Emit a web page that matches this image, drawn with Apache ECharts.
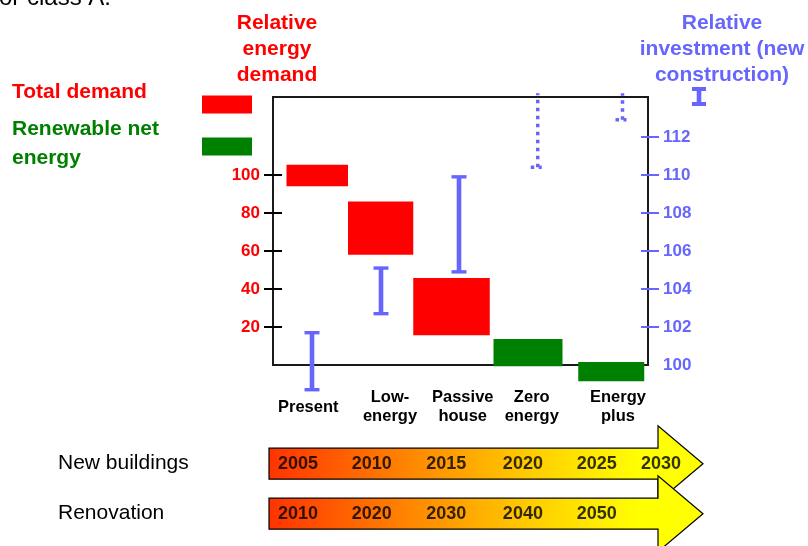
<!DOCTYPE html>
<html>
<head>
<meta charset="utf-8">
<script src="https://cdn.jsdelivr.net/npm/echarts@6/dist/echarts.min.js"></script>
<style>html,body{margin:0;padding:0;background:#fff}#chart{width:808px;height:546px}</style>
</head>
<body>
<div id="chart"></div>
<script>
var RED = '#ff0000', GREEN = '#008000', BLUE = '#6666ff';
var FONT = '"Liberation Sans", Arial, sans-serif';

// stages on the x axis (stage units, 0..5)
var stages = ['Present', 'Low-\nenergy', 'Passive\nhouse', 'Zero\nenergy', 'Energy\nplus'];
var stageLabelPos = [0.47, 1.56, 2.53, 3.45, 4.6];

// total demand bars (relative energy demand)
var demandStart = [0.18, 1.0, 1.87];
var demandEnd = [1.0, 1.87, 2.89];
var demandLow = [94, 58, 15.6];
var demandHigh = [105.4, 86, 45.8];

// renewable net energy bars
var renewStart = [2.94, 4.07];
var renewEnd = [3.86, 4.95];
var renewLow = [-0.7, -8.6];
var renewHigh = [13.7, 1.6];

// relative investment ranges (right axis)
var investX = [0.52, 1.44, 2.48];
var investLow = [98.7, 102.7, 104.9];
var investHigh = [101.7, 105.1, 109.9];
var openInvestX = [3.53, 4.66];
var openInvestLow = [110.4, 112.9];
var openInvestHigh = [114.3, 114.3];

var energyTicks = [20, 40, 60, 80, 100];
var investTicks = [102, 104, 106, 108, 110, 112];
var investLabels = [100, 102, 104, 106, 108, 110, 112];

// timeline arrows
var timelineRows = ['New buildings', 'Renovation'];
var newYears = ['2005', '2010', '2015', '2020', '2025', '2030'];
var newYearPos = [0.40, 1.42, 2.45, 3.51, 4.53, 5.42];
var renoYears = ['2010', '2020', '2030', '2040', '2050'];
var renoYearPos = [0.40, 1.42, 2.45, 3.51, 4.53];

function renderSpan(params, api) {
    var p0 = api.coord([api.value(0), api.value(3)]);
    var p1 = api.coord([api.value(1), api.value(2)]);
    return {
        type: 'rect',
        shape: {x: p0[0], y: p0[1], width: p1[0] - p0[0], height: p1[1] - p0[1]},
        style: {fill: api.visual('color')}
    };
}

function renderRange(dotted) {
    return function (params, api) {
        var x = api.value(0);
        var lo = api.coord([x, api.value(1)]);
        var hi = api.coord([x, api.value(2)]);
        var color = api.visual('color');
        if (dotted) {
            var dash = {stroke: color, lineWidth: 3.5, lineDash: [3.5, 4.5]};
            return {type: 'group', children: [
                {type: 'line', shape: {x1: lo[0], y1: lo[1], x2: hi[0], y2: hi[1]}, style: dash},
                {type: 'line', shape: {x1: lo[0] - 7, y1: lo[1], x2: lo[0] + 4, y2: lo[1]}, style: dash}
            ]};
        }
        var half = 7.5;
        return {type: 'group', children: [
            {type: 'line', shape: {x1: lo[0], y1: lo[1], x2: hi[0], y2: hi[1]}, style: {stroke: color, lineWidth: 4.6}},
            {type: 'rect', shape: {x: hi[0] - half, y: hi[1] - 1.7, width: 2 * half, height: 3.4}, style: {fill: color}},
            {type: 'rect', shape: {x: lo[0] - half, y: lo[1] - 1.7, width: 2 * half, height: 3.4}, style: {fill: color}}
        ]};
    };
}

function renderArrow(params, api) {
    var c = api.coord([0, api.value(1)]);
    var band = api.size([0, 1])[1];
    var sys = params.coordSys;
    var bodyHalf = band * 0.31, headHalf = band * 0.76;
    var tip = sys.x + sys.width, neck = tip - 45, x0 = sys.x, y = c[1];
    return {
        type: 'polygon',
        shape: {points: [[x0, y - bodyHalf], [neck, y - bodyHalf], [neck, y - headHalf], [tip, y],
            [neck, y + headHalf], [neck, y + bodyHalf], [x0, y + bodyHalf]]},
        style: {
            fill: new echarts.graphic.LinearGradient(0, 0, 1, 0, [
                {offset: 0, color: '#ff3300'},
                {offset: 0.3, color: '#ff8000'},
                {offset: 0.6, color: '#ffcc00'},
                {offset: 0.85, color: '#ffff00'},
                {offset: 1, color: '#ffff00'}
            ]),
            stroke: '#000', lineWidth: 1.2
        }
    };
}

var chart = echarts.init(document.getElementById('chart'));

var option = {
    animation: false,
    textStyle: {fontFamily: FONT},
    title: {
        text: 'or class A.', left: -6, top: -19,
        textStyle: {fontSize: 24, fontWeight: 'normal', color: '#000', fontFamily: FONT}
    },
    legend: [{
        left: 12, top: 82, padding: 0, align: 'right', selectedMode: false,
        itemWidth: 50, itemHeight: 18,
        data: [{name: 'Total demand', icon: 'rect'}],
        formatter: function () { return '{a|Total demand}'; },
        textStyle: {padding: [0, 0, 24, 0], rich: {a: {width: 185, align: 'left', fontSize: 21, lineHeight: 24, fontWeight: 'bold', color: RED, fontFamily: FONT}}}
    }, {
        left: 12, top: 119, padding: 0, align: 'right', selectedMode: false,
        itemWidth: 50, itemHeight: 18,
        data: [{name: 'Renewable net energy', icon: 'rect'}],
        formatter: function () { return '{a|Renewable net}\n{a|energy}'; },
        textStyle: {padding: [0, 0, 5, 0], rich: {a: {width: 185, align: 'left', fontSize: 21, lineHeight: 29, fontWeight: 'bold', color: GREEN, fontFamily: FONT}}}
    }, {
        left: 692, top: 87, padding: 0, selectedMode: false,
        itemWidth: 14, itemHeight: 19,
        data: [{name: 'Relative investment', icon: 'path://M0,0H14V4H9.3V15H14V19H0V15H4.7V4H0Z'}],
        formatter: function () { return ''; },
        textStyle: {fontSize: 8}
    }],
    grid: [
        {left: 273, right: 160, top: 97, bottom: 181, show: true, borderColor: '#1a1a1a', borderWidth: 2, outerBoundsMode: 'none'},
        {left: 269, right: 105, top: 438.7, height: 100, outerBoundsMode: 'none'}
    ],
    xAxis: [{
        gridIndex: 0, type: 'value', min: 0, max: 5,
        axisLine: {show: false}, splitLine: {show: false},
        axisTick: {show: false},
        axisLabel: {
            customValues: stageLabelPos, margin: 42, verticalAlign: 'middle',
            fontSize: 16.5, fontWeight: 'bold', color: '#000', lineHeight: 18.5, fontFamily: FONT,
            formatter: function (v) {
                var best = 0;
                for (var i = 1; i < stageLabelPos.length; i++) {
                    if (Math.abs(stageLabelPos[i] - v) < Math.abs(stageLabelPos[best] - v)) best = i;
                }
                return stages[best];
            }
        }
    }, {
        gridIndex: 1, type: 'value', min: 0, max: 6, show: false
    }],
    yAxis: [{
        gridIndex: 0, type: 'value', position: 'left', min: 0, max: 141,
        name: 'Relative\nenergy\ndemand', nameLocation: 'end', nameGap: 9,
        nameTextStyle: {color: RED, fontSize: 21, fontWeight: 'bold', lineHeight: 26, padding: [0, 0, 0, 8], fontFamily: FONT},
        axisLine: {show: false}, splitLine: {show: false},
        axisTick: {show: true, inside: false, length: 9, customValues: energyTicks, lineStyle: {color: '#000', width: 2}},
        axisLabel: {customValues: energyTicks, margin: 13, fontSize: 17, fontWeight: 'bold', color: RED, fontFamily: FONT}
    }, {
        gridIndex: 0, type: 'value', position: 'right', min: 100, max: 114.1,
        name: 'Relative\ninvestment (new\nconstruction)', nameLocation: 'end', nameGap: 9,
        nameTextStyle: {color: BLUE, fontSize: 21, fontWeight: 'bold', lineHeight: 26, padding: [0, 0, 0, 148], fontFamily: FONT},
        axisLine: {show: false}, splitLine: {show: false},
        axisTick: {show: true, inside: false, length: 11, customValues: investTicks, lineStyle: {color: BLUE, width: 2}},
        axisLabel: {customValues: investLabels, margin: 15, fontSize: 17, fontWeight: 'bold', color: BLUE, fontFamily: FONT}
    }, {
        gridIndex: 0, type: 'value', position: 'left', min: 0, max: 141,
        axisLine: {show: false}, splitLine: {show: false}, axisLabel: {show: false},
        axisTick: {show: true, inside: true, length: 9, customValues: energyTicks, lineStyle: {color: '#000', width: 2}}
    }, {
        gridIndex: 0, type: 'value', position: 'right', min: 100, max: 114.1,
        axisLine: {show: false}, splitLine: {show: false}, axisLabel: {show: false},
        axisTick: {show: true, inside: true, length: 7, customValues: investTicks, lineStyle: {color: BLUE, width: 2}}
    }, {
        gridIndex: 1, type: 'category', data: timelineRows, inverse: true,
        axisLine: {show: false}, axisTick: {show: false}, splitLine: {show: false},
        axisLabel: {align: 'left', margin: 211, fontSize: 21, color: '#000', fontFamily: FONT}
    }],
    series: [{
        name: 'Total demand', type: 'custom', xAxisIndex: 0, yAxisIndex: 0,
        itemStyle: {color: RED}, encode: {x: [0, 1], y: [2, 3]},
        renderItem: renderSpan,
        data: demandStart.map(function (s, i) { return [s, demandEnd[i], demandLow[i], demandHigh[i]]; })
    }, {
        name: 'Renewable net energy', type: 'custom', xAxisIndex: 0, yAxisIndex: 0,
        itemStyle: {color: GREEN}, encode: {x: [0, 1], y: [2, 3]},
        renderItem: renderSpan,
        data: renewStart.map(function (s, i) { return [s, renewEnd[i], renewLow[i], renewHigh[i]]; })
    }, {
        name: 'Relative investment', type: 'custom', xAxisIndex: 0, yAxisIndex: 1, z: 4,
        itemStyle: {color: BLUE}, encode: {x: 0, y: [1, 2]},
        renderItem: renderRange(false),
        data: investX.map(function (x, i) { return [x, investLow[i], investHigh[i]]; })
    }, {
        name: 'Relative investment (open)', type: 'custom', xAxisIndex: 0, yAxisIndex: 1, z: 4,
        itemStyle: {color: BLUE}, encode: {x: 0, y: [1, 2]},
        renderItem: renderRange(true),
        data: openInvestX.map(function (x, i) { return [x, openInvestLow[i], openInvestHigh[i]]; })
    }, {
        name: 'Timeline', type: 'custom', xAxisIndex: 1, yAxisIndex: 4,
        encode: {x: 0, y: 1},
        renderItem: renderArrow,
        data: timelineRows.map(function (r, i) { return [0, i]; })
    }, {
        name: 'New building years', type: 'scatter', xAxisIndex: 1, yAxisIndex: 4, z: 5,
        symbolSize: 0,
        label: {show: true, position: 'inside', formatter: '{b}', fontSize: 18, fontWeight: 'bold', color: '#000', fontFamily: FONT},
        data: newYears.map(function (y, i) { return {name: y, value: [newYearPos[i], 0]}; })
    }, {
        name: 'Renovation years', type: 'scatter', xAxisIndex: 1, yAxisIndex: 4, z: 5,
        symbolSize: 0,
        label: {show: true, position: 'inside', formatter: '{b}', fontSize: 18, fontWeight: 'bold', color: '#000', fontFamily: FONT},
        data: renoYears.map(function (y, i) { return {name: y, value: [renoYearPos[i], 1]}; })
    }]
};

chart.setOption(option);
</script>
</body>
</html>
